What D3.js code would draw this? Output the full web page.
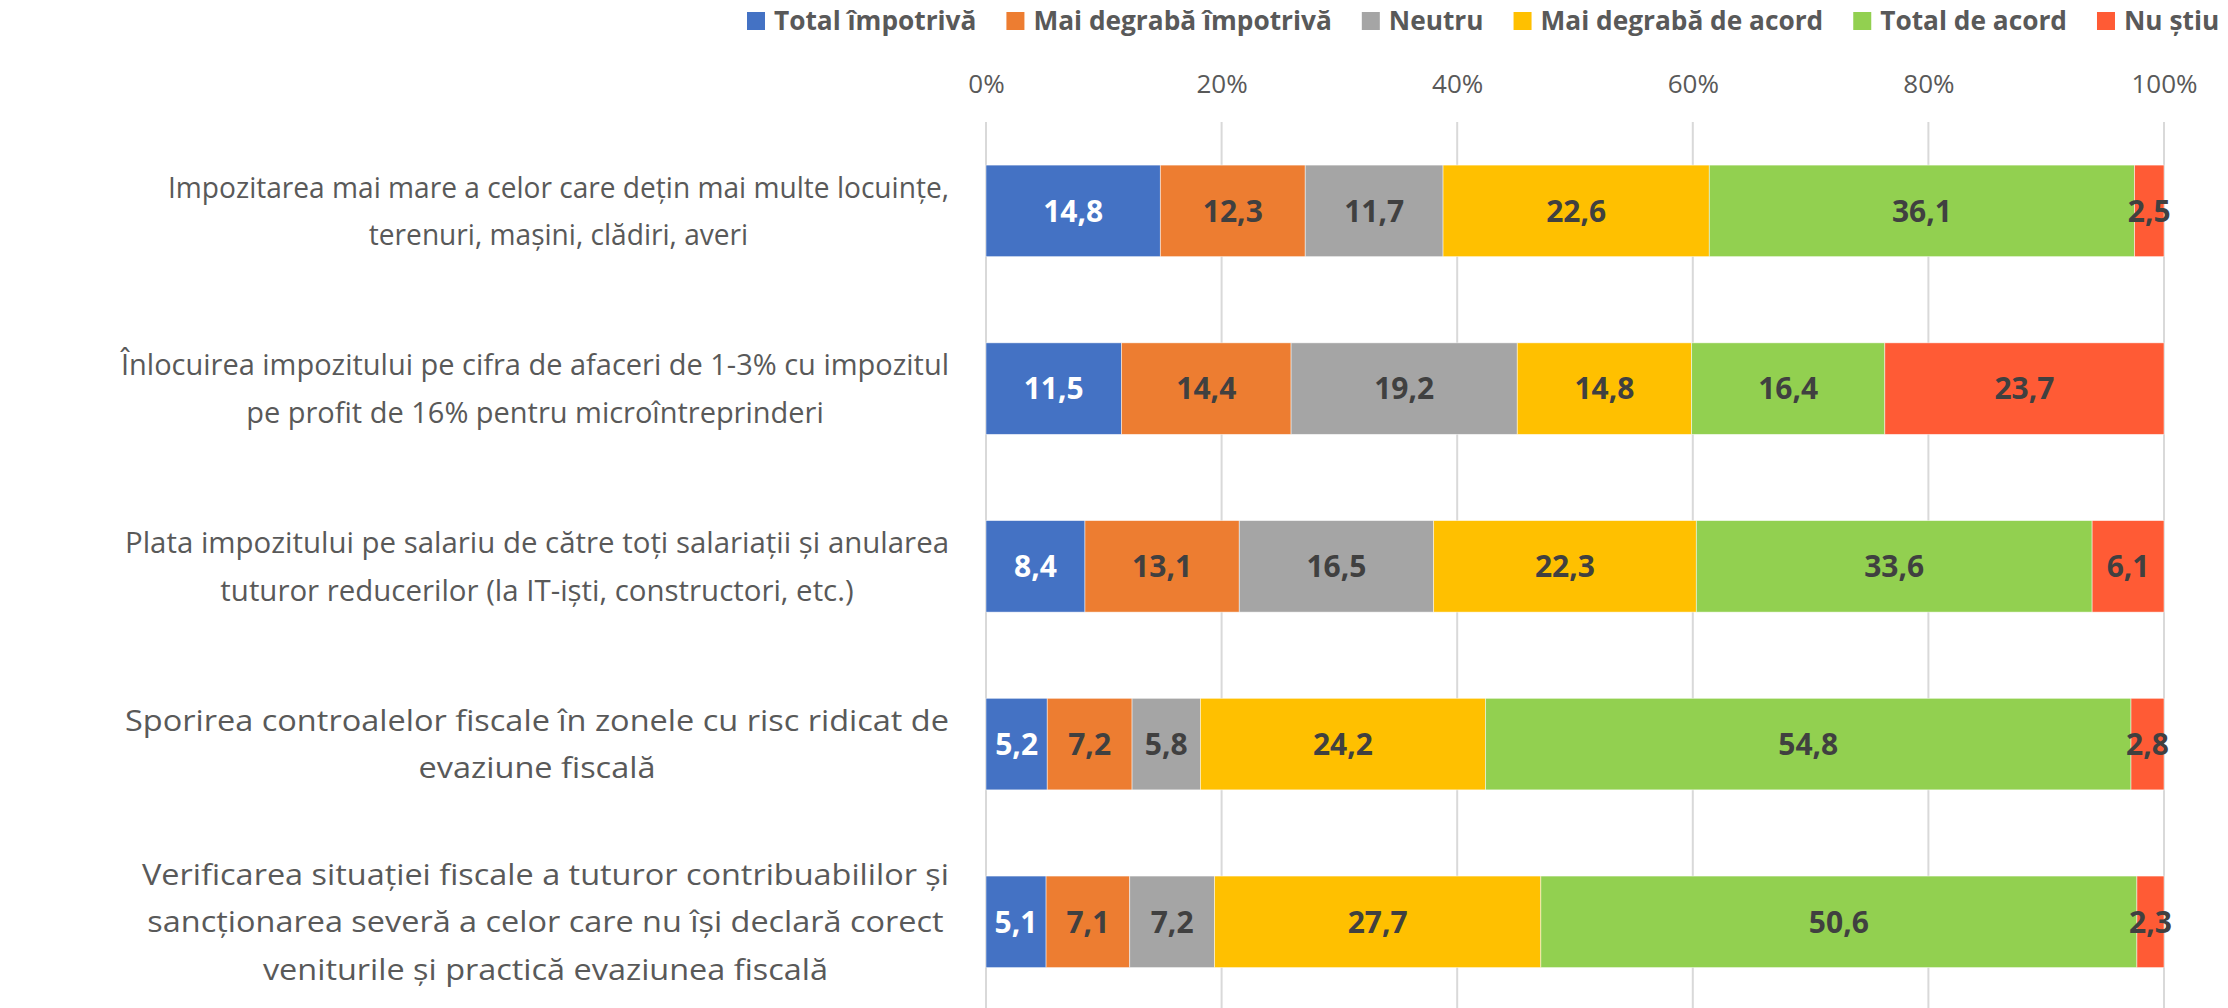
<!DOCTYPE html>
<html><head><meta charset="utf-8">
<script src="https://cdn.jsdelivr.net/npm/d3@7"></script>
<style>body{margin:0;background:#fff}svg{display:block}</style>
</head><body>
<svg id="c" width="2228" height="1008"></svg>
<script>
const series = ["Total împotrivă","Mai degrabă împotrivă","Neutru","Mai degrabă de acord","Total de acord","Nu știu"];
const colors = ["#4472C4","#ED7D31","#A5A5A5","#FFC000","#92D050","#FF5B35"];
const categories = [
  ["Impozitarea mai mare a celor care dețin mai multe locuințe,","terenuri, mașini, clădiri, averi"],
  ["Înlocuirea impozitului pe cifra de afaceri de 1-3% cu impozitul","pe profit de 16% pentru microîntreprinderi"],
  ["Plata impozitului pe salariu de către toți salariații și anularea","tuturor reducerilor (la IT-iști, constructori, etc.)"],
  ["Sporirea controalelor fiscale în zonele cu risc ridicat de","evaziune fiscală"],
  ["Verificarea situației fiscale a tuturor contribuabililor și","sancționarea severă a celor care nu își declară corect","veniturile și practică evaziunea fiscală"]
];
const totalImpotriva   = [14.8, 11.5, 8.4, 5.2, 5.1];
const maiDegrabaImpotr = [12.3, 14.4, 13.1, 7.2, 7.1];
const neutru           = [11.7, 19.2, 16.5, 5.8, 7.2];
const maiDegrabaAcord  = [22.6, 14.8, 22.3, 24.2, 27.7];
const totalAcord       = [36.1, 16.4, 33.6, 54.8, 50.6];
const nuStiu           = [2.5, 23.7, 6.1, 2.8, 2.3];
const tickValues = [0,20,40,60,80,100];
const tickLabels = ["0%","20%","40%","60%","80%","100%"];

// layout: widest-line width of each category label block (px), as in the original rendering
const labelBlockWidths = [781, 828, 824, 824, 807];

const valuesBySeries = [totalImpotriva, maiDegrabaImpotr, neutru, maiDegrabaAcord, totalAcord, nuStiu];
const rows = categories.map((c,i)=>{
  const o = {idx:i};
  series.forEach((s,j)=>o[s]=valuesBySeries[j][i]);
  return o;
});
const stacked = d3.stack().keys(series)(rows);

const svg = d3.select("#c");
const FONT = "'Open Sans', sans-serif";
const x = d3.scaleLinear().domain([0,100]).range([986,2164]);
const y = d3.scaleBand().domain(d3.range(categories.length)).range([122,1010.7]).paddingInner(0.485).paddingOuter(0.2425);

// gridlines
svg.append("g").selectAll("line").data(tickValues).join("line")
  .attr("x1",d=>x(d)).attr("x2",d=>x(d)).attr("y1",122).attr("y2",1008)
  .attr("stroke","#D9D9D9").attr("stroke-width",2);

// tick labels via axis
const axis = d3.axisTop(x).tickValues(tickValues).tickFormat((d,i)=>tickLabels[i]).tickSize(0).tickPadding(0);
const ag = svg.append("g").attr("transform","translate(0,93)").call(axis);
ag.select(".domain").remove();
ag.selectAll("text").attr("font-family",FONT).attr("font-size",26).attr("fill","#595959");

// bars
const layer = svg.append("g").selectAll("g").data(stacked).join("g").attr("fill",(d,i)=>colors[i]);
layer.selectAll("rect").data(d=>d).join("rect")
  .attr("x",d=>x(d[0])).attr("width",d=>x(d[1])-x(d[0]))
  .attr("y",(d,i)=>y(i)).attr("height",y.bandwidth())
  .attr("stroke","#ffffff").attr("stroke-width",0.8).attr("stroke-opacity",0.6);

// data labels
stacked.forEach((s,si)=>{
  svg.append("g").selectAll("text").data(s).join("text")
    .attr("x",d=>(x(d[0])+x(d[1]))/2)
    .attr("y",(d,i)=>y(i)+y.bandwidth()/2)
    .attr("dy","0.36em")
    .attr("text-anchor","middle")
    .attr("font-family",FONT).attr("font-weight",700).attr("font-size",30)
    .attr("fill",si===0?"#ffffff":"#404040")
    .text(d=>String(d.data[s.key]).replace(".",","));
});

// category labels
const labelRight = 949;
const lineH = 47.5;
const cg = svg.append("g");
categories.forEach((lines,i)=>{
  const g = cg.append("g");
  const texts = g.selectAll("text").data(lines).join("text")
    .attr("font-family",FONT).attr("font-size",30).attr("fill","#595959")
    .attr("text-anchor","middle")
    .attr("y",(d,k)=>y(i)+y.bandwidth()/2 + (k-(lines.length-1)/2)*lineH)
    .attr("dy","0.35em")
    .text(d=>d);
  const widths = [];
  texts.each(function(){widths.push(this.getComputedTextLength());});
  const maxW = d3.max(widths);
  const k = labelBlockWidths[i]/maxW;
  texts.attr("textLength",(d,j)=>widths[j]*k).attr("lengthAdjust","spacingAndGlyphs")
       .attr("x", labelRight - labelBlockWidths[i]/2);
});

// legend: fit between lStart and lEnd
const legendY = 21, sq = 18, gapT = 9, gapI = 30, lStart = 747, lEnd = 2220;
const lg = svg.append("g");
const lt = series.map(s=>lg.append("text").attr("font-family",FONT).attr("font-weight",700)
  .attr("font-size",24).attr("fill","#595959").attr("y",legendY).attr("dy","0.35em").text(s));
const sumW = d3.sum(lt,t=>t.node().getComputedTextLength());
const avail = lEnd - lStart - series.length*(sq+gapT) - (series.length-1)*gapI;
const fs = 24*avail/sumW;
lt.forEach(t=>t.attr("font-size",fs));
let lx = lStart;
series.forEach((s,i)=>{
  lg.append("rect").attr("x",lx).attr("y",legendY-sq/2).attr("width",sq).attr("height",sq).attr("fill",colors[i]);
  lt[i].attr("x",lx+sq+gapT);
  lx += sq + gapT + lt[i].node().getComputedTextLength() + gapI;
});
</script>
</body></html>
